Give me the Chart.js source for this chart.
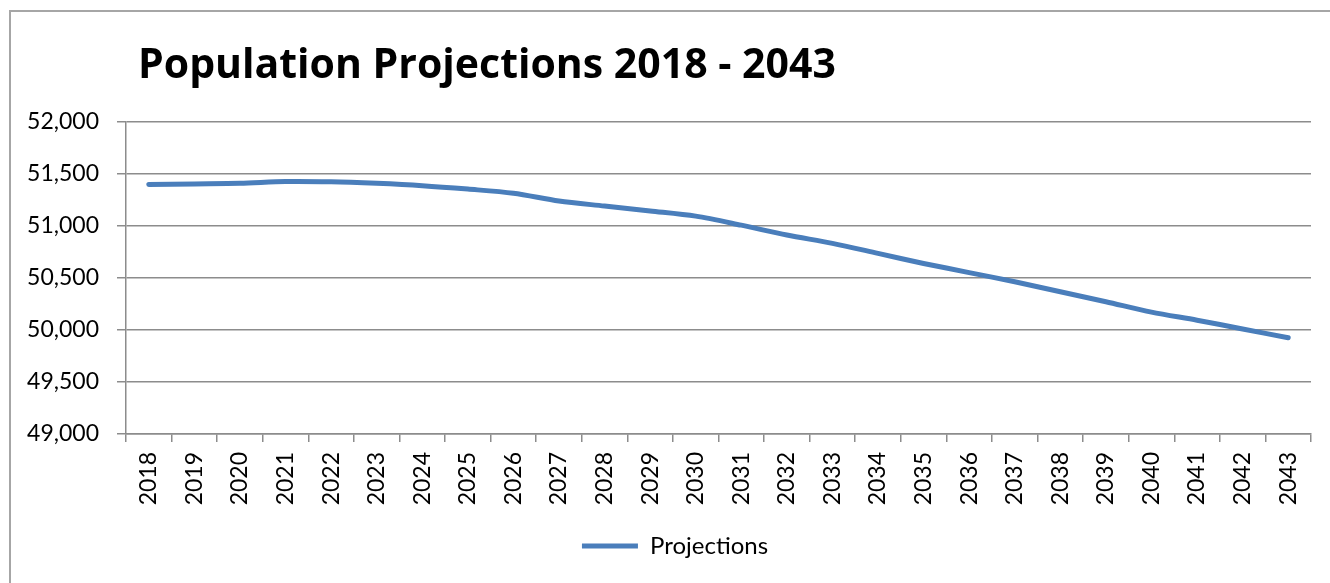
<!DOCTYPE html>
<html>
<head>
<meta charset="utf-8">
<script src="https://cdn.jsdelivr.net/npm/chart.js@4/dist/chart.umd.min.js"></script>
<style>
  html, body { margin: 0; padding: 0; background: #fff; overflow: hidden; }
  #frame {
    position: absolute; left: 9px; top: 10px;
    width: 1400px; height: 700px;
    border: 2px solid #a6a6a6;
  }
  #wrap { position: absolute; left: 0; top: 0; width: 1330px; height: 583px; }
</style>
</head>
<body>
<div id="frame"></div>
<div id="wrap"><canvas id="popChart" width="1330" height="583"></canvas></div>
<script>
const TITULO = "Population Projections 2018 - 2043";
const SERIE = "Projections";

const anos = ["2018", "2019", "2020", "2021", "2022", "2023", "2024", "2025", "2026",
  "2027", "2028", "2029", "2030", "2031", "2032", "2033", "2034", "2035", "2036",
  "2037", "2038", "2039", "2040", "2041", "2042", "2043"];

const populacao = [51400, 51405, 51410, 51428, 51425, 51410, 51388, 51355, 51315,
  51240, 51192, 51145, 51095, 51008, 50913, 50833, 50737, 50640, 50552,
  50464, 50368, 50272, 50172, 50094, 50010, 49925];

const eixoMin = 49000;
const eixoMax = 52000;
const eixoPasso = 500;

const CINZA = "#8c8c8c";
const AZUL = "#4a7ebb";

// titulo desenhado a esquerda, como no Excel
const tituloPlugin = {
  id: "tituloEsquerda",
  afterDraw(chart) {
    const ctx = chart.ctx;
    ctx.save();
    ctx.font = "bold 41px 'Open Sans'";
    ctx.fillStyle = "#000";
    ctx.textBaseline = "alphabetic";
    ctx.fillText(TITULO, chart.chartArea.left + 12, 78);
    ctx.restore();
  }
};

document.addEventListener("DOMContentLoaded", () => {
  const ctx = document.getElementById("popChart").getContext("2d");
  new Chart(ctx, {
    type: "line",
    data: {
      labels: anos,
      datasets: [{
        label: SERIE,
        data: populacao,
        borderColor: AZUL,
        backgroundColor: AZUL,
        borderWidth: 5,
        borderCapStyle: "round",
        borderJoinStyle: "round",
        pointRadius: 0,
        pointHoverRadius: 0,
        tension: 0.3,
        fill: false
      }]
    },
    options: {
      responsive: false,
      animation: false,
      layout: {
        padding: { top: 122, left: 20, right: 0, bottom: 15 }
      },
      plugins: {
        title: { display: false },
        tooltip: { enabled: false },
        legend: {
          position: "bottom",
          labels: {
            usePointStyle: true,
            pointStyle: "line",
            pointStyleWidth: 56,
            padding: 10,
            color: "#000",
            font: { family: "Lato", size: 24 }
          }
        }
      },
      scales: {
        x: {
          offset: true,
          grid: {
            offset: true,
            drawOnChartArea: false,
            drawTicks: true,
            tickLength: 8,
            color: CINZA,
            lineWidth: 1.5
          },
          border: { color: CINZA, width: 1.5 },
          ticks: {
            minRotation: 90,
            maxRotation: 90,
            padding: 10,
            color: "#000",
            font: { family: "Lato", size: 23 }
          },
          afterFit(scale) { scale.height = 90; }
        },
        y: {
          min: eixoMin,
          max: eixoMax,
          grid: {
            color: CINZA,
            lineWidth: 1.5,
            tickLength: 9
          },
          border: { color: CINZA, width: 1.5 },
          ticks: {
            stepSize: eixoPasso,
            padding: 18,
            color: "#000",
            font: { family: "Lato", size: 23 },
            callback: v => v.toLocaleString("en-US")
          },
          afterFit(scale) { scale.width = 106; }
        },
        // eixo vazio a direita so para dar a folga do Excel
        folga: {
          type: "linear",
          position: "right",
          display: true,
          grid: { display: false },
          border: { display: false },
          ticks: { display: false },
          afterFit(scale) { scale.width = 19; }
        }
      }
    },
    plugins: [tituloPlugin]
  });
});
</script>
</body>
</html>
